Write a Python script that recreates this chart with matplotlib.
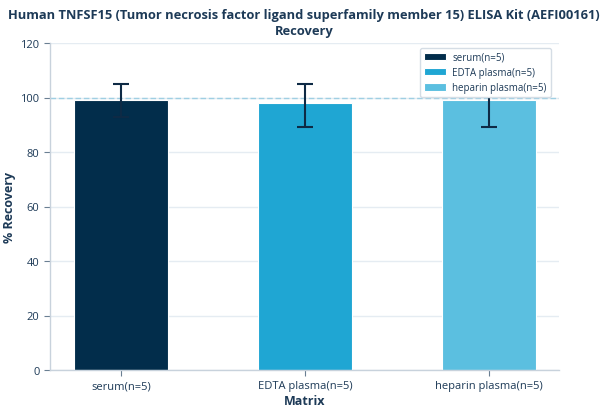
import matplotlib
matplotlib.use("Agg")
import matplotlib.pyplot as plt
import numpy as np

categories = ["serum(n=5)", "EDTA plasma(n=5)", "heparin plasma(n=5)"]
recovery = [99, 98, 99]
err_low = [6, 9, 10]
err_high = [6, 7, 10]
colors = ["#022d4b", "#1fa6d3", "#5bbfe0"]

plt.rcParams['font.family'] = ['Open Sans', 'DejaVu Sans']
text_color = "#1d3a57"

fig = plt.figure(figsize=(6.08, 4.14), dpi=100)
ax = fig.add_axes([50/608, 1-371/414, (559-50)/608, (371-44)/414])

x = np.arange(len(categories))
bars = ax.bar(x, recovery, width=0.51, color=colors, edgecolor="white", linewidth=0.8,
              label=categories, zorder=2)
ax.errorbar(x, recovery, yerr=[err_low, err_high], fmt="none", ecolor="#0e2a45",
            elinewidth=1.5, capsize=5.8, capthick=1.5, zorder=3)
ax.axhline(100, color="#9fcfe3", linestyle=(0, (4, 2)), linewidth=1.0, zorder=1)

ax.set_ylim(0, 120)
ax.set_xlim(-0.386, 2.38)
ax.set_yticks(range(0, 121, 20))
ax.set_xticks(x)
ax.set_xticklabels(categories)
ax.yaxis.grid(True, color="#e5ecf2", linewidth=1.0, zorder=0)
ax.set_axisbelow(True)
for s in ["top", "right"]:
    ax.spines[s].set_visible(False)
for s in ["left", "bottom"]:
    ax.spines[s].set_color("#c8d2dc")
    ax.spines[s].set_linewidth(1.0)
ax.tick_params(axis="both", colors="#6a7f92", labelcolor=text_color, labelsize=8, length=4)

ax.set_xlabel("Matrix", fontsize=9, fontweight="bold", color=text_color, labelpad=2)
ax.set_ylabel("% Recovery", fontsize=9, fontweight="bold", color=text_color, labelpad=3)
fig.suptitle("Human TNFSF15 (Tumor necrosis factor ligand superfamily member 15) ELISA Kit (AEFI00161)\nRecovery",
             fontsize=9.3, fontweight="bold", color=text_color, y=0.978, linespacing=1.3)

leg = ax.legend(loc="upper right", bbox_to_anchor=(0.993, 1.0), frameon=True,
                fancybox=True, edgecolor="#d5dde5", framealpha=1, handlelength=2.2,
                handleheight=0.8, labelspacing=0.45, borderpad=0.4, handletextpad=0.7,
                prop={"family": "Open Sans", "weight": "normal", "stretch": "normal", "size": 7})
for t in leg.get_texts():
    t.set_color(text_color)

fig.savefig("out.png", dpi=100)
